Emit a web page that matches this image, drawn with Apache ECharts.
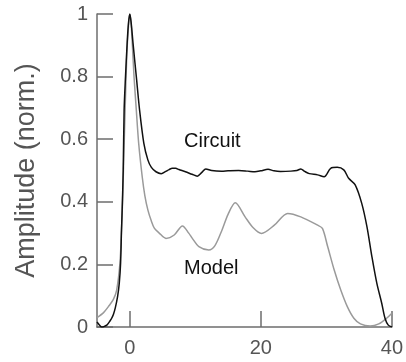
<!DOCTYPE html>
<html>
<head>
<meta charset="utf-8">
<script src="https://cdn.jsdelivr.net/npm/echarts@6/dist/echarts.min.js"></script>
<style>html,body{margin:0;padding:0;background:#fff;}#c{width:406px;height:362px;}</style>
</head>
<body>
<div id="c"></div>
<script>
const circuitX = [-5,-4.5,-4.3,-4,-3.5,-3,-2.76,-2.5,-2.2,-1.86,-1.6,-1.4,-1.26,-1.16,-1.0,-0.86,-0.65,-0.4,-0.2,0,0.2,0.5,1.0,1.5,2.15,2.76,3.3,4.0,4.8,5.5,6.0,6.5,7.0,7.5,8.5,9.5,10.3,11.0,11.6,12.5,14,15,16.6,18,19.1,20,21.1,22,23,24.6,25.5,26.1,26.7,27.4,28.66,29.66,30.66,31.66,32.66,33.4,34.4,35.4,36.2,36.95,37.7,38.45,38.95,39.45,40];
const circuitY = [0.016,0.003,0.0,0.001,0.006,0.02,0.028,0.04,0.062,0.097,0.14,0.204,0.31,0.374,0.5,0.693,0.8,0.906,0.97,1.0,0.975,0.906,0.8,0.693,0.587,0.534,0.51,0.496,0.49,0.497,0.503,0.507,0.507,0.503,0.496,0.488,0.482,0.494,0.505,0.5,0.498,0.499,0.5,0.498,0.496,0.499,0.504,0.499,0.497,0.498,0.5,0.505,0.497,0.49,0.486,0.48,0.507,0.51,0.502,0.475,0.454,0.395,0.32,0.225,0.14,0.076,0.028,0.006,0.0];
const modelX = [-5,-4,-3.27,-2.5,-2.0,-1.5,-1.26,-1.1,-0.9,-0.7,-0.45,-0.2,0,0.2,0.4,0.65,1.0,1.36,1.9,2.3,2.76,3.27,3.77,4.5,5.53,6.78,8.04,9.0,9.55,10.55,12.06,13.0,14.08,15.0,16.1,17.6,18.8,20.1,22.1,24.1,26.1,28.6,29.4,30.2,31.2,32.2,33.2,34.2,35.2,36.7,38.0,39.2,40];
const modelY = [0.03,0.046,0.065,0.088,0.118,0.204,0.31,0.4,0.55,0.7,0.87,0.96,1.0,0.97,0.9,0.8,0.693,0.587,0.48,0.42,0.374,0.34,0.315,0.3,0.283,0.294,0.323,0.3,0.283,0.257,0.246,0.26,0.31,0.36,0.397,0.352,0.318,0.299,0.326,0.363,0.352,0.326,0.315,0.257,0.182,0.118,0.065,0.028,0.01,0.003,0.01,0.028,0.044];
const xTicks = [0, 20, 40];
const yTickStep = 0.2;
const labels = ['Circuit', 'Model'];

const pair = (xs, ys) => xs.map((x, i) => [x, ys[i]]);
const font = 'Liberation Sans, Arial, sans-serif';
const axisCol = '#6e6e6e';
const chart = echarts.init(document.getElementById('c'), null, {renderer: 'canvas'});
chart.setOption({
  animation: false,
  grid: {left: 97, top: 14, right: 10, bottom: 35, containLabel: false},
  xAxis: {
    type: 'value', min: -5, max: 40,
    axisLine: {show: true, onZero: false, lineStyle: {color: axisCol, width: 1.5}},
    axisTick: {show: true, inside: true, length: 16, customValues: xTicks, lineStyle: {color: axisCol, width: 1.5}},
    axisLabel: {customValues: xTicks, color: '#555', fontSize: 20, fontFamily: font, margin: 11},
    splitLine: {show: false}
  },
  yAxis: {
    type: 'value', min: 0, max: 1, interval: yTickStep,
    name: 'Amplitude (norm.)', nameLocation: 'middle', nameGap: 57,
    nameTextStyle: {color: '#555', fontSize: 27, fontFamily: font},
    axisLine: {show: true, onZero: false, lineStyle: {color: axisCol, width: 1.5}},
    axisTick: {show: true, inside: true, length: 16, lineStyle: {color: axisCol, width: 1.5}},
    axisLabel: {color: '#555', fontSize: 20, fontFamily: font, margin: 9},
    splitLine: {show: false}
  },
  series: [
    {type: 'line', name: 'Model', data: pair(modelX, modelY), showSymbol: false, smooth: 0.3,
     lineStyle: {color: '#9a9a9a', width: 1.5}, z: 2},
    {type: 'line', name: 'Circuit', data: pair(circuitX, circuitY), showSymbol: false, smooth: 0.3,
     lineStyle: {color: '#111', width: 1.5}, z: 3}
  ],
  graphic: [
    {type: 'text', left: 184, top: 131, style: {text: labels[0], font: '20px ' + font, fill: '#111'}},
    {type: 'text', left: 184, top: 258, style: {text: labels[1], font: '20px ' + font, fill: '#111'}}
  ]
});
</script>
</body>
</html>
